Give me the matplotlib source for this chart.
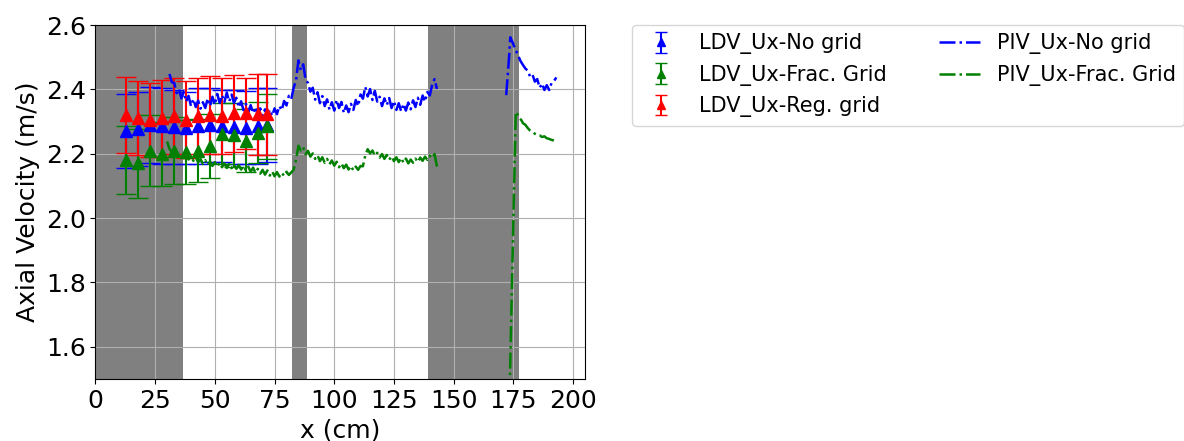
import matplotlib
matplotlib.use('Agg')
import matplotlib.pyplot as plt

# LDV point measurements
ldv_x = [13, 18, 23, 28, 33, 38, 43, 48, 53, 58, 63, 68, 72]
ldv_no_grid = [2.270, 2.278, 2.288, 2.285, 2.284, 2.280, 2.286, 2.288, 2.285, 2.283, 2.281, 2.287, 2.288]
ldv_no_grid_err = [0.115, 0.115, 0.118, 0.118, 0.115, 0.113, 0.118, 0.115, 0.112, 0.115, 0.113, 0.118, 0.115]
ldv_frac = [2.180, 2.170, 2.210, 2.200, 2.210, 2.205, 2.210, 2.225, 2.262, 2.258, 2.240, 2.265, 2.285]
ldv_frac_err = [0.105, 0.107, 0.110, 0.100, 0.105, 0.100, 0.098, 0.100, 0.095, 0.100, 0.098, 0.095, 0.100]
ldv_reg = [2.320, 2.312, 2.305, 2.310, 2.316, 2.306, 2.316, 2.320, 2.316, 2.326, 2.326, 2.322, 2.322]
ldv_reg_err = [0.118, 0.115, 0.115, 0.120, 0.118, 0.120, 0.118, 0.120, 0.118, 0.120, 0.110, 0.125, 0.125]

# PIV profiles, two windows
piv_x1 = [31, 32, 33, 34, 35, 36, 37, 38, 39, 40, 41, 42, 43, 44, 45, 46, 47, 48, 49, 50,
          51, 52, 53, 54, 55, 56, 57, 58, 59, 60, 61, 62, 63, 64, 65, 66, 67, 68, 69, 70,
          71, 72, 73, 74, 75, 76, 77, 78, 79, 80, 81, 82, 83, 84, 85, 86, 87, 88, 89, 90,
          91, 92, 93, 94, 95, 96, 97, 98, 99, 100, 101, 102, 103, 104, 105, 106, 107, 108, 109, 110,
          111, 112, 113, 114, 115, 116, 117, 118, 119, 120, 121, 122, 123, 124, 125, 126, 127, 128, 129, 130,
          131, 132, 133, 134, 135, 136, 137, 138, 139, 140, 141, 142, 143]
piv_no_grid1 = [2.448, 2.422, 2.420, 2.388, 2.400, 2.372, 2.392, 2.362, 2.380, 2.348,
                2.370, 2.345, 2.365, 2.340, 2.360, 2.342, 2.372, 2.348, 2.377, 2.352,
                2.386, 2.358, 2.382, 2.360, 2.390, 2.362, 2.384, 2.358, 2.374, 2.344,
                2.363, 2.335, 2.355, 2.330, 2.351, 2.326, 2.345, 2.320, 2.341, 2.318,
                2.338, 2.316, 2.337, 2.318, 2.341, 2.323, 2.348, 2.335, 2.364, 2.350,
                2.380, 2.370, 2.405, 2.428, 2.490, 2.460, 2.478, 2.430, 2.420, 2.393,
                2.405, 2.368, 2.391, 2.357, 2.379, 2.348, 2.369, 2.337, 2.360, 2.334,
                2.367, 2.342, 2.361, 2.327, 2.350, 2.329, 2.355, 2.336, 2.367, 2.348,
                2.384, 2.371, 2.408, 2.378, 2.401, 2.367, 2.395, 2.362, 2.377, 2.348,
                2.372, 2.351, 2.373, 2.342, 2.364, 2.336, 2.357, 2.332, 2.355, 2.334,
                2.359, 2.338, 2.366, 2.345, 2.374, 2.352, 2.381, 2.362, 2.392, 2.381,
                2.414, 2.432, 2.401]
piv_frac1 = [2.215, 2.206, 2.198, 2.200, 2.192, 2.197, 2.186, 2.198, 2.182, 2.193,
             2.178, 2.190, 2.173, 2.184, 2.168, 2.180, 2.164, 2.176, 2.162, 2.174,
             2.160, 2.172, 2.158, 2.170, 2.156, 2.168, 2.155, 2.167, 2.153, 2.165,
             2.151, 2.162, 2.148, 2.160, 2.144, 2.157, 2.141, 2.153, 2.138, 2.150,
             2.135, 2.148, 2.132, 2.145, 2.130, 2.143, 2.129, 2.141, 2.131, 2.144,
             2.134, 2.142, 2.150, 2.182, 2.225, 2.210, 2.220, 2.198, 2.209, 2.191,
             2.201, 2.184, 2.195, 2.177, 2.189, 2.172, 2.184, 2.167, 2.179, 2.163,
             2.175, 2.158, 2.170, 2.155, 2.166, 2.151, 2.162, 2.148, 2.160, 2.150,
             2.162, 2.161, 2.195, 2.214, 2.201, 2.210, 2.194, 2.203, 2.188, 2.199,
             2.184, 2.196, 2.181, 2.192, 2.177, 2.189, 2.174, 2.187, 2.172, 2.185,
             2.170, 2.182, 2.172, 2.185, 2.174, 2.188, 2.178, 2.191, 2.181, 2.194,
             2.186, 2.199, 2.160]

piv_x2 = [172.0, 172.6, 173.2, 173.7, 174.3, 175, 176, 177, 178, 179, 180, 181, 182,
          183, 184, 185, 186, 187, 188, 189, 190, 191, 192, 193]
piv_no_grid2 = [2.382, 2.440, 2.500, 2.562, 2.552, 2.540, 2.522, 2.505, 2.488, 2.476,
                2.465, 2.458, 2.440, 2.446, 2.424, 2.432, 2.405, 2.418, 2.398, 2.413,
                2.398, 2.420, 2.426, 2.437]
piv_x2f = [173.4, 176.0, 176.8, 177.5, 178.3, 179, 180, 181, 182, 183, 184, 185, 186,
           187, 188, 189, 190, 191, 192, 193]
piv_frac2 = [1.45, 2.330, 2.322, 2.310, 2.305, 2.295, 2.290, 2.280, 2.272, 2.268,
             2.262, 2.258, 2.257, 2.252, 2.254, 2.248, 2.246, 2.243, 2.241, 2.240]

# regions with no optical access
shaded = [(0, 36.6), (82.4, 88.4), (139.2, 177.4)]

fig = plt.figure(figsize=(11.84, 4.41), dpi=100)
ax = fig.add_axes([0.0806, 0.1406, 0.4135, 0.8027])

for a, b in shaded:
    ax.axvspan(a, b, color='gray', lw=0)

ax.errorbar(ldv_x, ldv_no_grid, yerr=ldv_no_grid_err, fmt='^', color='b', ms=9, capsize=7, elinewidth=1.5)
ax.errorbar(ldv_x, ldv_frac, yerr=ldv_frac_err, fmt='^', color='g', ms=9, capsize=7, elinewidth=1.5)
ax.errorbar(ldv_x, ldv_reg, yerr=ldv_reg_err, fmt='^', color='r', ms=9, capsize=7, elinewidth=1.5)

l1, = ax.plot(piv_x1, piv_no_grid1, 'b-.', lw=1.8, label='PIV_Ux-No grid')
ax.plot(piv_x2, piv_no_grid2, 'b-.', lw=1.8)
l2, = ax.plot([30] + piv_x1, [2.238] + piv_frac1, 'g-.', lw=1.8, label='PIV_Ux-Frac. Grid')
ax.plot(piv_x2f, piv_frac2, 'g-.', lw=1.8)

# smaller errorbar symbols for the legend only (empty data)
nan = float('nan')
h1 = ax.errorbar([nan], [nan], yerr=[nan], fmt='^', color='b', ms=6, capsize=4, elinewidth=1.5, label='LDV_Ux-No grid')
h2 = ax.errorbar([nan], [nan], yerr=[nan], fmt='^', color='g', ms=6, capsize=4, elinewidth=1.5, label='LDV_Ux-Frac. Grid')
h3 = ax.errorbar([nan], [nan], yerr=[nan], fmt='^', color='r', ms=6, capsize=4, elinewidth=1.5, label='LDV_Ux-Reg. grid')

ax.set_xlim(0, 205)
ax.set_ylim(1.5, 2.6)
ax.set_xticks([0, 25, 50, 75, 100, 125, 150, 175, 200])
ax.set_yticks([1.6, 1.8, 2.0, 2.2, 2.4, 2.6])
ax.tick_params(labelsize=18)
ax.grid(True)
ax.set_xlabel('x (cm)', fontsize=18)
ax.set_ylabel('Axial Velocity (m/s)', fontsize=18)

fig.legend(handles=[h1, h2, h3, l1, l2], ncol=2, fontsize=15, loc='upper left',
           bbox_to_anchor=(0.534, 0.943), borderaxespad=0, columnspacing=2.5)

fig.savefig('out.png', dpi=100)
